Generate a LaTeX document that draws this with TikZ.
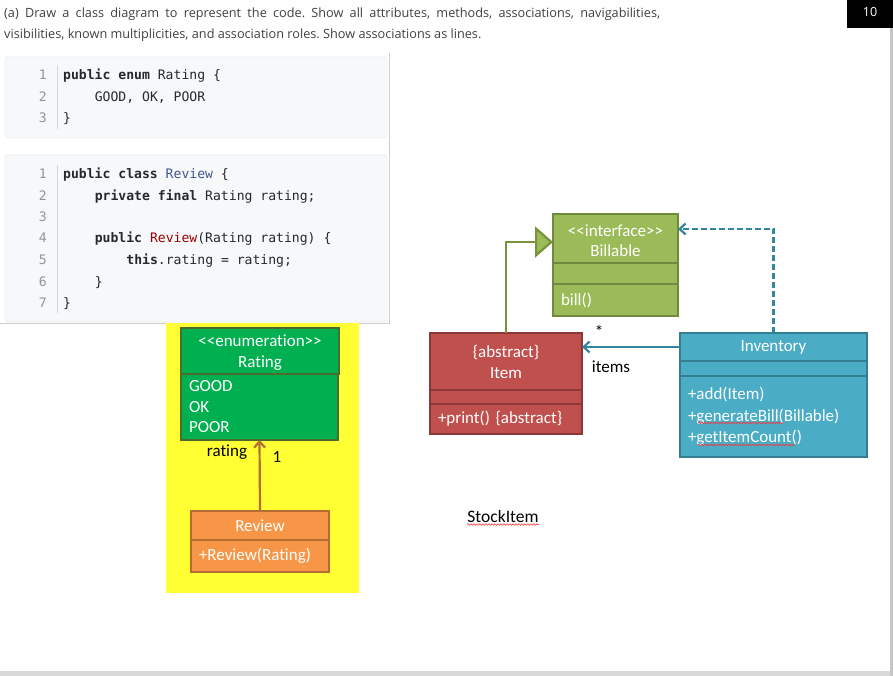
\documentclass[tikz,border=0pt]{standalone}
\usepackage{fontspec}
\setmainfont{Carlito}[Ligatures=NoCommon]
\newfontfamily\titlefont{Open Sans}
\newfontfamily\codefont{DejaVu Sans Mono}
\usetikzlibrary{arrows.meta,calc,decorations.pathmorphing}
\definecolor{ylw}{HTML}{FFFF33}
\definecolor{enumfill}{HTML}{00B050}
\definecolor{enumdraw}{HTML}{4A6B2A}
\definecolor{revfill}{HTML}{F79646}
\definecolor{revdraw}{HTML}{B66D31}
\definecolor{billfill}{HTML}{9BBB59}
\definecolor{billdraw}{HTML}{71893F}
\definecolor{itemfill}{HTML}{C0504D}
\definecolor{itemdraw}{HTML}{8C3836}
\definecolor{invfill}{HTML}{4BACC6}
\definecolor{invdraw}{HTML}{357D91}
\definecolor{teal}{HTML}{31859C}
\definecolor{genline}{HTML}{77933C}
\definecolor{codebg}{HTML}{F6F8FA}
\definecolor{codeborder}{HTML}{EAEEF2}
\definecolor{codetxt}{HTML}{24292F}
\definecolor{lnum}{HTML}{8C959F}
\definecolor{kwblue}{HTML}{445588}
\definecolor{kwred}{HTML}{990000}
\definecolor{titletxt}{HTML}{404040}
\frenchspacing
\begin{document}
\begin{tikzpicture}[x=1pt,y=-1pt,
  comp/.style={draw, line width=2.2pt, inner sep=0pt, outer sep=0pt, anchor=north west,
    text=white, font=\fontsize{17}{21}\selectfont, align=center},
  lcomp/.style={comp, align=left, text width=#1, inner xsep=8pt},
  lbl/.style={font=\fontsize{17}{21}\selectfont, text=black, inner sep=0pt},
  code/.style={anchor=base west, inner sep=0pt, font=\codefont\fontsize{13.1}{16}\selectfont, text=codetxt},
  num/.style={anchor=base east, inner sep=0pt, font=\codefont\fontsize{13.1}{16}\selectfont, text=lnum},
  ttl/.style={anchor=base west, inner sep=0pt, font=\titlefont\fontsize{12.7}{16}\selectfont, text=titletxt},
  squig/.style={red!80, line width=0.6pt, decorate, decoration={snake, amplitude=0.8pt, segment length=3pt}},
  block/.style={fill=codebg, draw=codeborder, line width=0.8pt, rounded corners=3pt},
  sep/.style={draw=codeborder!80!gray, line width=0.8pt}
]
\useasboundingbox (0,0) rectangle (893,676);
% page shadow
\fill[gray!30] (0,671) rectangle (893,676);
\fill[gray!45] (890,0) rectangle (893,676);
% title
\node[ttl] (t1) at (4,17.5) {\makebox[656pt][s]{(a) Draw a class diagram to represent the code. Show all attributes, methods, associations, navigabilities,}};
\node[ttl] (t2) at (4,38.5) {visibilities, known multiplicities, and association roles. Show associations as lines.};
\fill[black] (847,0) rectangle (893,28);
\node[font=\titlefont\fontsize{12.5}{16}\selectfont, text=white, inner sep=0pt] (pts) at (870,12) {10};
% code screenshot
\draw[gray!40, line width=0.8pt] (389,53) -- (389,323) -- (0,323);
\draw[block] (5,57) rectangle (387,138);
\draw[sep] (57,65) -- (57,129);
\draw[block] (5,155) rectangle (387,322);
\draw[sep] (57,165) -- (57,313);
\node[num] (n11) at (47,79.5) {1};
\node[num] (n12) at (47,101.5) {2};
\node[num] (n13) at (47,123) {3};
\node[code] (c11) at (63,79.5) {\textbf{public enum} Rating \{};
\node[code] (c12) at (94.6,101.5) {GOOD, OK, POOR};
\node[code] (c13) at (63,123) {\}};
\node[num] (n21) at (47,178.5) {1};
\node[num] (n22) at (47,200.5) {2};
\node[num] (n23) at (47,221.5) {3};
\node[num] (n24) at (47,242.5) {4};
\node[num] (n25) at (47,264.5) {5};
\node[num] (n26) at (47,286.5) {6};
\node[num] (n27) at (47,307.5) {7};
\node[code] (c21) at (63,178.5) {\textbf{public class} \textcolor{kwblue}{Review} \{};
\node[code] (c22) at (94.6,200.5) {\textbf{private final} Rating rating;};
\node[code] (c24) at (94.6,242.5) {\textbf{public} \textcolor{kwred}{Review}(Rating rating) \{};
\node[code] (c25) at (126.2,264.5) {\textbf{this}.rating = rating;};
\node[code] (c26) at (94.6,286.5) {\}};
\node[code] (c27) at (63,307.5) {\}};
% yellow highlight
\fill[ylw] (166,323) rectangle (359,593);
% Rating enumeration
\node[comp, fill=enumfill, draw=enumdraw, minimum width=158pt, minimum height=46pt, font=\fontsize{17}{22}\selectfont] (rh) at (181,328) {<{}<enumeration>{}>\\[-0.5pt]\raisebox{0pt}[\height][0pt]{Rating}};
\node[lcomp=141pt, fill=enumfill, draw=enumdraw, minimum height=66pt, font=\fontsize{17}{20.5}\selectfont] (rb) at (181,374) {GOOD\\OK\\POOR};
% Review
\node[comp, fill=revfill, draw=revdraw, minimum width=138pt, minimum height=29pt] (vh) at (191,511) {Review};
\node[lcomp=122pt, fill=revfill, draw=revdraw, minimum height=32pt] (vb) at (191,540) {+Review(Rating)};
\draw[revdraw, line width=2.2pt, -{Straight Barb[length=6pt,width=11pt]}] (vh.north) -- (rb.south);
\node[lbl] (lrating) at (227,452) {rating};
\node[lbl] (lone) at (277,457) {1};
% Billable
\node[comp, fill=billfill, draw=billdraw, minimum width=125pt, minimum height=49pt, font=\fontsize{17}{20}\selectfont] (bh) at (553,214) {\rule{0pt}{16pt}<{}<interface>{}>\\Billable};
\node[comp, fill=billfill, draw=billdraw, minimum width=125pt, minimum height=21pt] (bm) at (553,263) {};
\node[lcomp=109pt, fill=billfill, draw=billdraw, minimum height=32pt] (bb) at (553,284) {bill()};
% Item
\node[comp, fill=itemfill, draw=itemdraw, minimum width=152pt, minimum height=57pt] (ih) at (430,333) {\{abstract\}\\Item};
\node[comp, fill=itemfill, draw=itemdraw, minimum width=152pt, minimum height=14pt] (im) at (430,390) {};
\node[lcomp=136pt, fill=itemfill, draw=itemdraw, minimum height=30pt] (ib) at (430,404) {+print() \{abstract\}};
% Inventory
\node[comp, fill=invfill, draw=invdraw, minimum width=187pt, minimum height=28pt] (vnh) at (680,333) {Inventory};
\node[comp, fill=invfill, draw=invdraw, minimum width=187pt, minimum height=15pt] (vnm) at (680,361) {};
\node[lcomp=171pt, fill=invfill, draw=invdraw, minimum height=81pt, font=\fontsize{17}{21.5}\selectfont] (vnb) at (680,376) {+add(Item)\\+generateBill(Billable)\\+getItemCount()};
\draw[squig] (698,423) -- (783,423);
\draw[squig] (698,445) -- (795,445);
% generalization Item -> Billable
\draw[genline, line width=2.2pt, -{Triangle[length=18pt,width=31pt,fill=billfill]}] (ih.north) |- ($(bh.north west)+(0,28)$);
% realization Inventory -> Billable
\draw[teal, line width=2.2pt, dashed, dash pattern=on 6pt off 3pt, -{Straight Barb[length=6pt,width=11pt]}] (vnh.north) |- ($(bh.north east)+(0,15)$);
% association Inventory -> Item
\draw[teal, line width=2.2pt, -{Straight Barb[length=6pt,width=11pt]}] (vnh.west) -- (vnh.west -| ih.east);
\node[lbl] (lstar) at (599,331) {*};
\node[lbl] (litems) at (611,367) {items};
% StockItem
\node[lbl, font=\fontsize{17.5}{20}\selectfont] (stock) at (503,516) {StockItem};
\draw[squig] (467,524.5) -- (539,524.5);
\end{tikzpicture}
\end{document}
